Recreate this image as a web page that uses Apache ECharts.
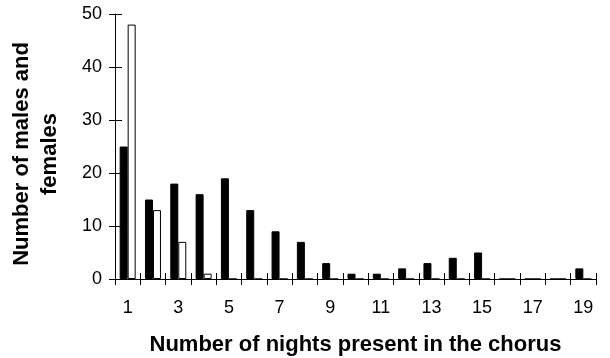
<!DOCTYPE html>
<html><head><meta charset="utf-8">
<script src="https://cdn.jsdelivr.net/npm/echarts@6/dist/echarts.min.js"></script>
<style>html,body{margin:0;padding:0;background:#fff}#c{width:610px;height:358px}</style>
</head><body><div id="c"></div>
<script>
var nights = ['1','2','3','4','5','6','7','8','9','10','11','12','13','14','15','16','17','18','19'];
var males = [25,15,18,16,19,13,9,7,3,1,1,2,3,4,5,0,0,0,2];
var females = [48,13,7,1,0,0,0,0,0,0,0,0,0,0,0,0,0,0,0];
var yTicks = {min:0, max:50, interval:10};
var xTitle = 'Number of nights present in the chorus';
var yTitle = 'Number of males and\nfemales';

var font = "'Liberation Sans', Arial, sans-serif";
var chart = echarts.init(document.getElementById('c'));
chart.setOption({
  animation:false,
  backgroundColor:'#fff',
  grid:{left:115,right:14,top:14,bottom:79,containLabel:false,outerBoundsMode:'none'},
  xAxis:[{
    type:'category', data:nights,
    axisLine:{lineStyle:{color:'#000',width:1}},
    axisTick:{show:false},
    axisLabel:{interval:1,color:'#000',fontSize:18,fontFamily:font,margin:20},
    name:xTitle, nameLocation:'middle', nameGap:55,
    nameTextStyle:{color:'#000',fontSize:22,fontWeight:'bold',fontFamily:font}
  },{
    type:'category', data:nights, position:'bottom', offset:-6,
    axisLine:{show:false},
    axisTick:{show:true,interval:0,length:12,lineStyle:{color:'#000',width:1}},
    axisLabel:{show:false}
  }],
  yAxis:[{
    type:'value', min:yTicks.min, max:yTicks.max, interval:yTicks.interval,
    axisLine:{show:true,lineStyle:{color:'#000',width:1}},
    axisTick:{show:false},
    splitLine:{show:false},
    axisLabel:{color:'#000',fontSize:18,fontFamily:font,margin:13},
    name:yTitle, nameLocation:'middle', nameGap:51,
    nameTextStyle:{color:'#000',fontSize:22,fontWeight:'bold',fontFamily:font,lineHeight:28,align:'center',padding:[0,15,0,0]}
  },{
    type:'value', min:yTicks.min, max:yTicks.max, interval:yTicks.interval, position:'left', offset:-7,
    axisLine:{show:false},
    axisTick:{show:true,length:13,lineStyle:{color:'#000',width:1}},
    splitLine:{show:false},
    axisLabel:{show:false}
  }],
  series:[{
    name:'Males', type:'bar', data:males, barWidth:8, barGap:'0%',
    itemStyle:{color:'#000',borderColor:'#000',borderWidth:1}
  },{
    name:'Females', type:'bar', data:females, barWidth:8, barGap:'0%',
    itemStyle:{color:'#fff',borderColor:'#000',borderWidth:1}
  }]
});
</script></body></html>
